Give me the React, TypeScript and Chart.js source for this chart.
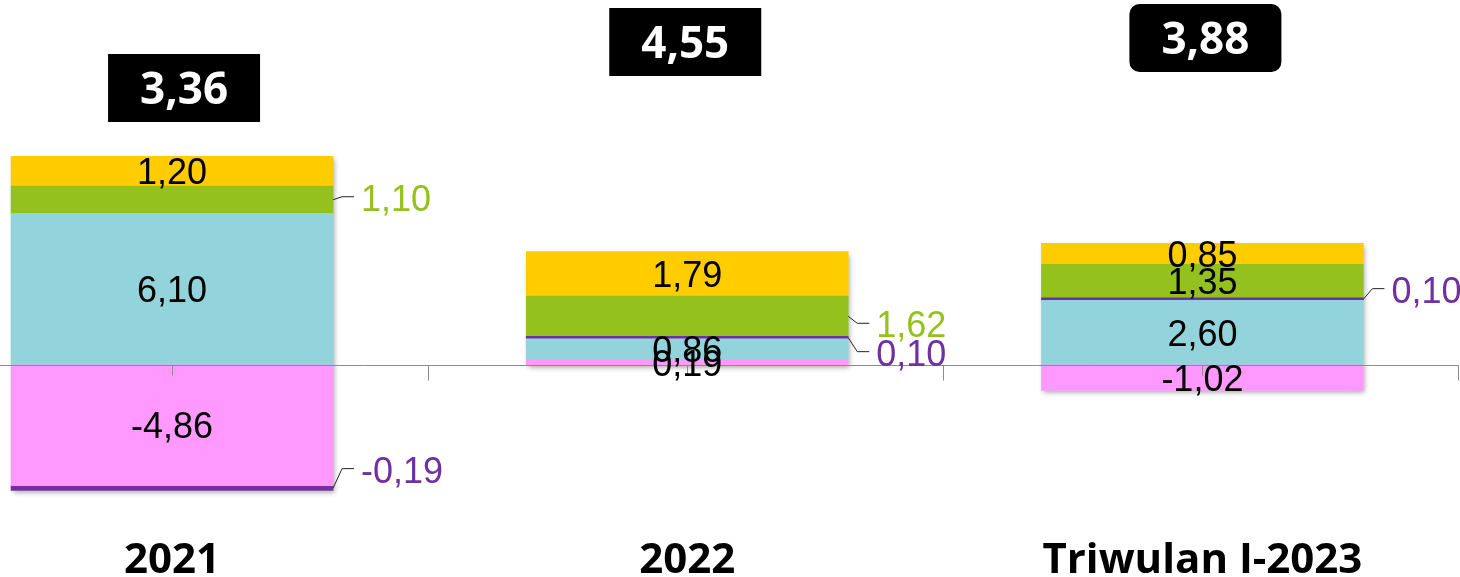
import React, { useEffect, useRef } from 'react';
import { Chart, registerables } from 'chart.js';

Chart.register(...registerables);

// ---- data ----
const categories = ['2021', '2022', 'Triwulan I-2023'];
const pinkValues = [-4.86, 0.19, -1.02];
const blueValues = [6.1, 0.86, 2.6];
const purpleValues = [-0.19, 0.1, 0.1];
const greenValues = [1.1, 1.62, 1.35];
const yellowValues = [1.2, 1.79, 0.85];
const totals = [3.36, 4.55, 3.88];

// ---- presentation ----
const totalLevels = [11.15, 13.0, 13.16]; // y-value of total box centre
const totalBoxDx = [12, -2, 3];
const totalBoxRadius = [0, 0, 10];

type Series = {
  name: string;
  values: number[];
  color: string;
  outsideColor: string;
  outside: boolean[];
  outsideDy: number[];
};

const series: Series[] = [
  { name: 'Pink', values: pinkValues, color: '#FF99FF', outsideColor: '#000', outside: [false, false, false], outsideDy: [0, 0, 0] },
  { name: 'Blue', values: blueValues, color: '#93D3DC', outsideColor: '#000', outside: [false, false, false], outsideDy: [0, 0, 0] },
  { name: 'Purple', values: purpleValues, color: '#7030A0', outsideColor: '#7030A0', outside: [true, true, true], outsideDy: [-18.5, 15, -9.5] },
  { name: 'Green', values: greenValues, color: '#95C11F', outsideColor: '#95C11F', outside: [true, true, false], outsideDy: [-2, 8, 0] },
  { name: 'Yellow', values: yellowValues, color: '#FFCC00', outsideColor: '#000', outside: [false, false, false], outsideDy: [0, 0, 0] },
];

const fmt = (v: number) => v.toFixed(2).replace('.', ',');

const overlayPlugin = {
  id: 'overlay',
  beforeDatasetsDraw(chart: any) {
    const ctx = chart.ctx;
    const y = chart.scales.y;
    const meta0 = chart.getDatasetMeta(0);
    categories.forEach((_, i) => {
      let pos = 0;
      let neg = 0;
      series.forEach((s) => {
        const v = s.values[i];
        if (v >= 0) pos += v;
        else neg += v;
      });
      const el = meta0.data[i];
      const left = el.x - el.width / 2;
      const top = y.getPixelForValue(pos);
      const bottom = y.getPixelForValue(neg);
      ctx.save();
      ctx.shadowColor = 'rgba(0,0,0,0.35)';
      ctx.shadowBlur = 5;
      ctx.shadowOffsetX = 2;
      ctx.shadowOffsetY = 3;
      ctx.fillStyle = '#ffffff';
      ctx.fillRect(left, top, el.width, bottom - top);
      ctx.restore();
    });
  },
  afterDatasetsDraw(chart: any) {
    const ctx = chart.ctx;
    const xs = chart.scales.x;
    const ys = chart.scales.y;
    const area = chart.chartArea;
    const zeroY = Math.round(ys.getPixelForValue(0)) + 0.5;
    const step = xs.getPixelForValue(1) - xs.getPixelForValue(0);

    // axis line + ticks
    ctx.save();
    ctx.strokeStyle = '#8c8c8c';
    ctx.lineWidth = 1;
    ctx.beginPath();
    ctx.moveTo(area.left, zeroY);
    ctx.lineTo(xs.getPixelForValue(categories.length - 1) + step / 2 - 1, zeroY);
    categories.forEach((_, i) => {
      const cx = Math.round(xs.getPixelForValue(i)) + 0.5;
      ctx.moveTo(cx, zeroY);
      ctx.lineTo(cx, zeroY + 10);
      const bx = Math.round(xs.getPixelForValue(i) + step / 2) - 1.5;
      ctx.moveTo(bx, zeroY);
      ctx.lineTo(bx, zeroY + 15);
    });
    ctx.stroke();
    ctx.restore();

    // value labels
    const fontSize = 36;
    ctx.save();
    ctx.font = `${fontSize}px "Liberation Sans", Arial, sans-serif`;
    ctx.textBaseline = 'alphabetic';
    const capHalf = fontSize * 0.358;
    series.forEach((s, di) => {
      const meta = chart.getDatasetMeta(di);
      s.values.forEach((v, i) => {
        const el = meta.data[i];
        const cy = (el.y + el.base) / 2;
        const text = fmt(v);
        if (!s.outside[i]) {
          ctx.fillStyle = '#000';
          ctx.textAlign = 'center';
          ctx.fillText(text, el.x, cy + capHalf);
        } else {
          const right = el.x + el.width / 2;
          const ly = cy + s.outsideDy[i];
          const lx = right + 28;
          ctx.strokeStyle = '#222';
          ctx.lineWidth = 1;
          ctx.beginPath();
          ctx.moveTo(right, cy);
          ctx.lineTo(right + 9, ly - 1);
          ctx.lineTo(lx - 7, ly - 1);
          ctx.stroke();
          ctx.fillStyle = s.outsideColor;
          ctx.textAlign = 'left';
          ctx.fillText(text, lx, ly + capHalf);
        }
      });
    });
    ctx.restore();

    // total boxes
    ctx.save();
    const boxW = 152;
    const boxH = 68;
    ctx.font = 'bold 44px "Open Sans", sans-serif';
    ctx.textAlign = 'center';
    ctx.textBaseline = 'alphabetic';
    totals.forEach((t, i) => {
      const cx = xs.getPixelForValue(i) + totalBoxDx[i];
      const cy = ys.getPixelForValue(totalLevels[i]);
      ctx.fillStyle = '#000';
      ctx.beginPath();
      if (totalBoxRadius[i] > 0 && (ctx as any).roundRect) {
        (ctx as any).roundRect(cx - boxW / 2, cy - boxH / 2, boxW, boxH, totalBoxRadius[i]);
      } else {
        ctx.rect(cx - boxW / 2, cy - boxH / 2, boxW, boxH);
      }
      ctx.fill();
      ctx.fillStyle = '#fff';
      ctx.fillText(fmt(t), cx, cy + 44 * 0.357);
    });
    ctx.restore();

    // category labels
    ctx.save();
    ctx.font = 'bold 42px "Open Sans", sans-serif';
    ctx.fillStyle = '#000';
    ctx.textAlign = 'center';
    ctx.textBaseline = 'alphabetic';
    categories.forEach((c, i) => {
      ctx.fillText(c, xs.getPixelForValue(i), area.bottom - 4);
    });
    ctx.restore();
  },
};

export default function App() {
  const canvasRef = useRef<HTMLCanvasElement | null>(null);

  useEffect(() => {
    if (!canvasRef.current) return;
    const chart = new Chart(canvasRef.current, {
      type: 'bar',
      data: {
        datasets: series.map((s) => ({
          label: s.name,
          data: s.values.map((v, i) => ({ x: i, y: v })),
          backgroundColor: s.color,
          borderWidth: 0,
          barThickness: 322,
        })),
      },
      options: {
        animation: false,
        responsive: false,
        maintainAspectRatio: false,
        layout: { padding: 0 },
        plugins: {
          legend: { display: false },
          tooltip: { enabled: false },
        },
        scales: {
          x: {
            type: 'linear',
            display: false,
            stacked: true,
            offset: false,
            min: -0.334,
            max: 2.5,
          },
          y: {
            display: false,
            stacked: true,
            min: -8.531,
            max: 14.688,
          },
        },
      },
      plugins: [overlayPlugin],
    });
    return () => chart.destroy();
  }, []);

  return (
    <div style={{ position: 'fixed', left: 0, top: 0, width: 1460, height: 577, background: '#fff' }}>
      <canvas ref={canvasRef} width={1460} height={577} style={{ display: 'block' }} />
    </div>
  );
}
